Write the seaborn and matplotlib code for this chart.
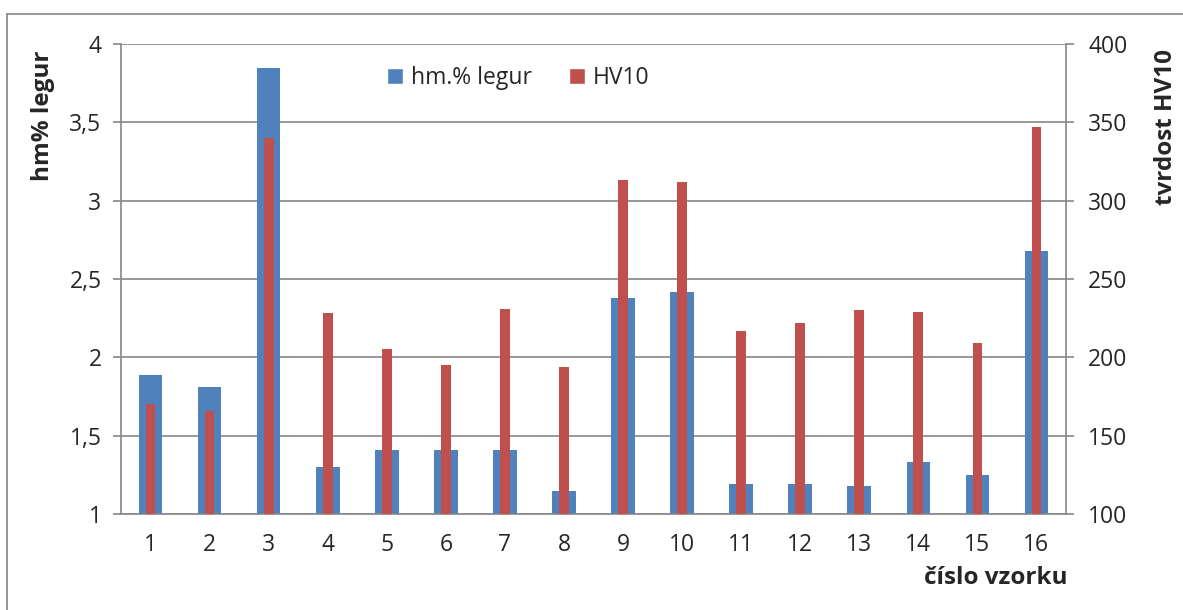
import numpy as np
import pandas as pd
import matplotlib
matplotlib.use("Agg")
import matplotlib.pyplot as plt
from matplotlib.patches import Rectangle, Patch
from matplotlib.ticker import FixedLocator, FuncFormatter
import seaborn as sns

# Sample numbers and measured values
vzorky = [str(i) for i in range(1, 17)]
legury = [1.89, 1.81, 3.85, 1.30, 1.41, 1.41, 1.41, 1.15,
          2.38, 2.42, 1.19, 1.19, 1.18, 1.33, 1.25, 2.68]
hv10 = [170, 166, 340, 228, 205, 195, 231, 194,
        313, 312, 217, 222, 230, 229, 209, 347]

left_ticks = [1, 1.5, 2, 2.5, 3, 3.5, 4]
right_ticks = [100, 150, 200, 250, 300, 350, 400]

df = pd.DataFrame({"vzorek": vzorky, "legury": legury, "hv10": hv10})

sns.set_style("white")
plt.rcParams["font.family"] = ["Open Sans", "DejaVu Sans"]

BLUE = "#4F81BD"
RED = "#C0504D"
GRID = "#868686"
W, H = 1183, 610
FS = 16.5
FSB = 17.5

fig = plt.figure(figsize=(W / 100, H / 100), dpi=100)
ax = fig.add_axes([121 / W, 1 - 514 / H, (1066 - 121) / W, (514 - 44) / H])
ax.set_axisbelow(True)

sns.barplot(data=df, x="vzorek", y="legury", ax=ax, color=BLUE,
            width=0.40, saturation=1, errorbar=None, linewidth=0)
ax2 = ax.twinx()
sns.barplot(data=df, x="vzorek", y="hv10", ax=ax2, color=RED,
            width=0.165, saturation=1, errorbar=None, linewidth=0)

ax.set_xlim(-0.5, len(vzorky) - 0.5)
ax.set_ylim(1, 4)
ax2.set_ylim(100, 400)
ax.set_xlabel("")
ax.set_ylabel("")
ax2.set_xlabel("")
ax2.set_ylabel("")

fmt = FuncFormatter(lambda v, p: f"{v:g}".replace(".", ","))
ax.yaxis.set_major_locator(FixedLocator(left_ticks))
ax.yaxis.set_major_formatter(fmt)
ax2.yaxis.set_major_locator(FixedLocator(right_ticks))

ax.yaxis.grid(True, color=GRID, linewidth=1.2)
ax.xaxis.grid(False)

# category boundaries carry the x ticks
ax.xaxis.set_minor_locator(FixedLocator(np.arange(-0.5, len(vzorky), 1.0)))
ax.tick_params(axis="x", which="major", length=0, pad=14, labelsize=FS)
ax.tick_params(axis="x", which="minor", length=6, width=1.2, color=GRID)
ax.tick_params(axis="y", which="major", length=6, width=1.2, color=GRID,
               pad=8, labelsize=FS, left=True)
ax2.tick_params(axis="y", which="major", length=6, width=1.2, color=GRID,
                pad=10, labelsize=FS, right=True)

for a in (ax, ax2):
    for s in a.spines.values():
        s.set_color(GRID)
        s.set_linewidth(1.2)
    a.spines["top"].set_visible(False)
ax.spines["right"].set_visible(False)
ax2.spines["left"].set_visible(False)
ax2.spines["bottom"].set_visible(False)

# axis titles
fig.text(43 / W, 1 - 116 / H, "hm% legur", rotation=90, ha="center",
         va="center", fontsize=FSB, fontweight="bold")
fig.text(1166 / W, 1 - 127 / H, "tvrdost HV10", rotation=90, ha="center",
         va="center", fontsize=FSB, fontweight="bold")
fig.text(1067 / W, 1 - 578 / H, "číslo vzorku", ha="right", va="center",
         fontsize=FSB, fontweight="bold")

handles = [Patch(facecolor=BLUE, label="hm.% legur"),
           Patch(facecolor=RED, label="HV10")]
fig.legend(handles=handles, loc="center left",
           bbox_to_anchor=(387 / W, 1 - 78 / H), ncol=2, frameon=False,
           fontsize=FS, handlelength=0.68, handleheight=0.68,
           handletextpad=0.35, columnspacing=1.65, borderpad=0,
           borderaxespad=0)

# chart frame
fig.patches.append(Rectangle((7 / W, -0.1), 1.2, 1.1 - 14 / H,
                             transform=fig.transFigure, fill=False,
                             edgecolor=GRID, linewidth=1.2))

fig.savefig("out.png", dpi=100)
